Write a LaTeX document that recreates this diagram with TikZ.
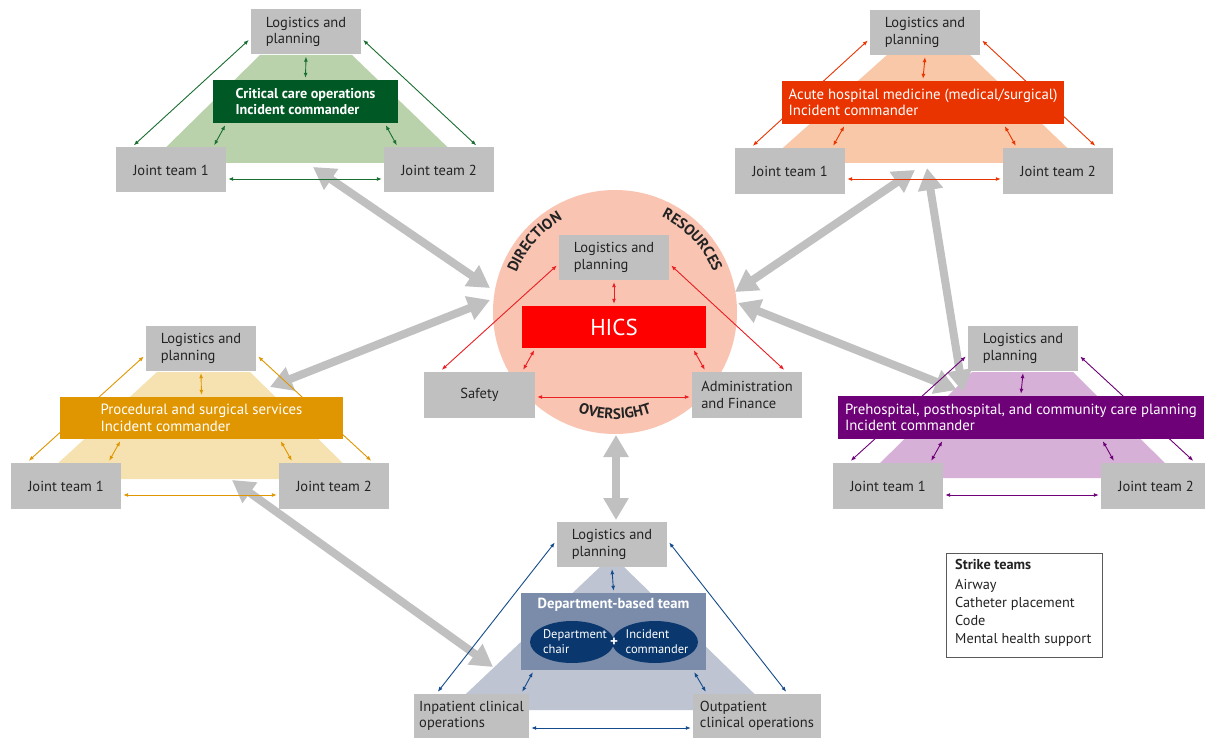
\documentclass[tikz,border=0pt]{standalone}
\usepackage{fontspec}
\setmainfont{PT Sans}
\usetikzlibrary{arrows.meta,calc,decorations.text,shapes.geometric}
\definecolor{boxgray}{RGB}{192,192,192}
\definecolor{txt}{RGB}{35,35,35}
\definecolor{arrgray}{RGB}{192,192,192}
\definecolor{gdark}{RGB}{0,88,36}
\definecolor{gline}{RGB}{25,110,50}
\definecolor{gtrap}{RGB}{186,210,172}
\definecolor{odark}{RGB}{234,52,0}
\definecolor{otrap}{RGB}{248,200,168}
\definecolor{ctrap}{RGB}{249,196,178}
\definecolor{hicsred}{RGB}{255,0,0}
\definecolor{rline}{RGB}{235,30,35}
\definecolor{ydark}{RGB}{224,150,0}
\definecolor{ytrap}{RGB}{246,226,176}
\definecolor{pdark}{RGB}{110,0,120}
\definecolor{ptrap}{RGB}{214,176,214}
\definecolor{bbox}{RGB}{123,140,171}
\definecolor{bell}{RGB}{10,56,110}
\definecolor{btrap}{RGB}{190,196,210}
\definecolor{bline}{RGB}{20,75,140}
\definecolor{leggray}{RGB}{90,90,90}
\pgfdeclarelayer{bg}
\pgfdeclarelayer{mid}
\pgfsetlayers{bg,mid,main}
\newcommand{\clarrows}[6]{%
 \draw[tarr,color=#5] ([xshift=-2pt,yshift=-8pt]#1.west) -- ([xshift=18pt,yshift=2pt]#3.north west);
 \draw[tarr,color=#5] ([xshift=2pt,yshift=-8pt]#1.east) -- ([xshift=-18pt,yshift=2pt]#4.north east);
 \draw[tarr,color=#5] ([yshift=-2pt]#1.south) -- ([yshift=2pt]#2.north);
 \draw[tarr,color=#5] ($(#3.north east |- #2.south)+(-1pt,-2pt)$) -- ([xshift=-12pt,yshift=2pt]#3.north east);
 \draw[tarr,color=#5] ($(#4.north west |- #2.south)+(2pt,-2pt)$) -- ([xshift=13pt,yshift=2pt]#4.north west);
 \draw[tarr,color=#5] ([xshift=2pt,yshift=-#6]#3.east) -- ([xshift=-2pt,yshift=-#6]#4.west);
}
\begin{document}
\begin{tikzpicture}[x=1pt,y=-1pt,
  gbox/.style={fill=boxgray, minimum width=110pt, minimum height=45pt, inner sep=2pt, align=left, text=txt, font=\fontsize{14.5}{16.5}\selectfont},
  icbox/.style={minimum height=43pt, inner sep=2pt, align=left, text=white, font=\fontsize{14.8}{16.5}\selectfont},
  tarr/.style={line width=0.9pt, {Latex[length=5pt,width=4pt]}-{Latex[length=5pt,width=4pt]}},
  big/.style={line width=8pt, draw=arrgray, {Triangle[length=22pt,width=24pt]}-{Triangle[length=22pt,width=24pt]}},
  curv/.style={decorate, decoration={text along path, text align=center, text={|\fontsize{15}{15}\selectfont\bfseries\color{txt}|#1}}}
]
\useasboundingbox (0,0) rectangle (1205,738);
\begin{pgfonlayer}{bg}
\fill[white] (0,0) rectangle (1205,738);
\fill[gtrap] (260,55) -- (352,55) -- (464,163) -- (150,163) -- cycle;
\fill[otrap] (887,55) -- (970,55) -- (1083,163) -- (766,163) -- cycle;
\fill[ytrap] (157,372) -- (250,372) -- (359,479) -- (41,479) -- cycle;
\fill[ptrap] (972,372) -- (1073,372) -- (1180,478) -- (865,478) -- cycle;
\fill[btrap] (600,567) -- (624,567) -- (771,710) -- (449,710) -- cycle;
\coordinate (cc) at (615,312);
\fill[ctrap] (cc) circle[radius=122pt];
\end{pgfonlayer}
% green cluster
\node[gbox] (gL) at (306,32) {Logistics and\\planning};
\node[icbox, fill=gdark, minimum width=185pt, font=\fontsize{14.2}{16.5}\selectfont\bfseries] (gIC) at (305.5,101.5) {Critical care operations\\Incident commander};
\node[gbox] (gJ1) at (171,170) {Joint team 1};
\node[gbox] (gJ2) at (439,170) {Joint team 2};
% orange cluster
\node[gbox] (oL) at (925,32.5) {Logistics and\\planning};
\node[icbox, fill=odark, minimum width=282pt] (oIC) at (923,102.5) {Acute hospital medicine (medical/surgical)\\Incident commander};
\node[gbox, minimum height=46pt] (oJ1) at (790,171) {Joint team 1};
\node[gbox, minimum height=46pt] (oJ2) at (1058,171) {Joint team 2};
% center
\node[gbox] (cL) at (614,257.5) {Logistics and\\planning};
\node[fill=hicsred, minimum width=184pt, minimum height=42pt, text=white, font=\fontsize{23}{23}\selectfont] (hics) at (614,327) {HICS};
\node[gbox, minimum width=111pt, minimum height=46pt] (saf) at (479.5,395) {Safety};
\node[gbox, minimum height=46pt] (adm) at (747,395) {Administration\\and Finance};
\path[curv=DIRECTION] ([shift={(178:106pt)}]cc) arc[start angle=178, end angle=100, radius=106pt];
\path[curv=RESOURCES] ([shift={(82:106pt)}]cc) arc[start angle=82, end angle=4, radius=106pt];
\path[curv=OVERSIGHT] ([shift={(225:107pt)}]cc) arc[start angle=225, end angle=315, radius=107pt];
% yellow cluster
\node[gbox] (yL) at (201,348.5) {Logistics and\\planning};
\node[icbox, fill=ydark, minimum width=283pt, minimum height=42pt] (yIC) at (201.5,418) {Procedural and surgical services\\Incident commander};
\node[gbox, minimum height=46pt] (yJ1) at (66,486) {Joint team 1};
\node[gbox, minimum height=46pt] (yJ2) at (334,486) {Joint team 2};
% purple cluster
\node[gbox] (pL) at (1023,348.5) {Logistics and\\planning};
\node[icbox, fill=pdark, minimum width=366pt] (pIC) at (1021,417.5) {Prehospital, posthospital, and community care planning\\Incident commander};
\node[gbox, minimum height=46pt] (pJ1) at (888,486) {Joint team 1};
\node[gbox, minimum height=46pt] (pJ2) at (1156,486) {Joint team 2};
% blue cluster
\node[gbox] (bL) at (612,544.5) {Logistics and\\planning};
\node[fill=bbox, minimum width=185pt, minimum height=77pt] (dbt) at (613.5,631.5) {};
\node[text=white, font=\fontsize{14.6}{14.6}\selectfont\bfseries] (dbtT) at (613.5,605) {Department-based team};
\node[ellipse, fill=bell, minimum width=84pt, minimum height=42pt, inner sep=0pt] (e1) at (572,642) {};
\node[ellipse, fill=bell, minimum width=86pt, minimum height=42pt, inner sep=0pt] (e2) at (655,642) {};
\node[text=white, align=left, font=\fontsize{12.5}{15}\selectfont] (t1) at (575,642) {Department\\chair};
\node[text=white, align=left, font=\fontsize{12.5}{15}\selectfont] (t2) at (657,642) {Incident\\commander};
\node[text=white, font=\fontsize{15}{15}\selectfont\bfseries] (plus) at (614,642) {+};
\node[gbox, minimum width=115pt, minimum height=44pt] (inp) at (471.5,716) {Inpatient clinical\\operations};
\node[gbox, minimum width=128pt, minimum height=44pt] (out) at (757,716) {Outpatient\\clinical operations};
% legend
\node[draw=leggray, line width=0.8pt, minimum width=156pt, minimum height=104pt] (leg) at (1024,605) {};
\node[align=left, text=txt, font=\fontsize{14.3}{18}\selectfont, anchor=north west, inner sep=0pt] (legtxt) at (955,559) {\textbf{Strike teams}\\[2pt]Airway\\Catheter placement\\Code\\Mental health support};
% connectors
\begin{pgfonlayer}{mid}
\coordinate (a1s) at (313,167); \coordinate (a1e) at (490,288);
\coordinate (a2s) at (490,300); \coordinate (a2e) at (270,387);
\coordinate (a3s) at (915,170); \coordinate (a3e) at (735,292);
\coordinate (a4s) at (927,168); \coordinate (a4e) at (963,392);
\coordinate (a5s) at (738,303); \coordinate (a5e) at (957,390);
\coordinate (a6s) at (232,480); \coordinate (a6e) at (493,667);
\coordinate (a7s) at (616,435); \coordinate (a7e) at (616,520);
\draw[big] (a1s) -- (a1e);
\draw[big] (a2s) -- (a2e);
\draw[big] (a3s) -- (a3e);
\draw[big] (a4s) -- (a4e);
\draw[big] (a5s) -- (a5e);
\draw[big] (a6s) -- (a6e);
\draw[big] (a7s) -- (a7e);
\clarrows{gL}{gIC}{gJ1}{gJ2}{gline}{9pt}
\clarrows{oL}{oIC}{oJ1}{oJ2}{odark}{8pt}
\clarrows{cL}{hics}{saf}{adm}{rline}{2pt}
\clarrows{yL}{yIC}{yJ1}{yJ2}{ydark}{9pt}
\clarrows{pL}{pIC}{pJ1}{pJ2}{pdark}{9pt}
\draw[tarr,color=bline] ([xshift=-2pt,yshift=2pt]bL.west) -- ([xshift=24pt,yshift=2pt]inp.north west);
\draw[tarr,color=bline] ([xshift=2pt,yshift=2pt]bL.east) -- ([xshift=-35pt,yshift=2pt]out.north east);
\draw[tarr,color=bline] ([yshift=-2pt]bL.south) -- ([yshift=2pt]dbt.north);
\draw[tarr,color=bline] ([xshift=12pt,yshift=-2pt]dbt.south west) -- ([xshift=-7pt,yshift=2pt]inp.north east);
\draw[tarr,color=bline] ([xshift=-12pt,yshift=-2pt]dbt.south east) -- ([xshift=13pt,yshift=2pt]out.north west);
\draw[tarr,color=bline] ([xshift=2pt,yshift=-12pt]inp.east) -- ([xshift=-2pt,yshift=-12pt]out.west);
\end{pgfonlayer}
\end{tikzpicture}
\end{document}
